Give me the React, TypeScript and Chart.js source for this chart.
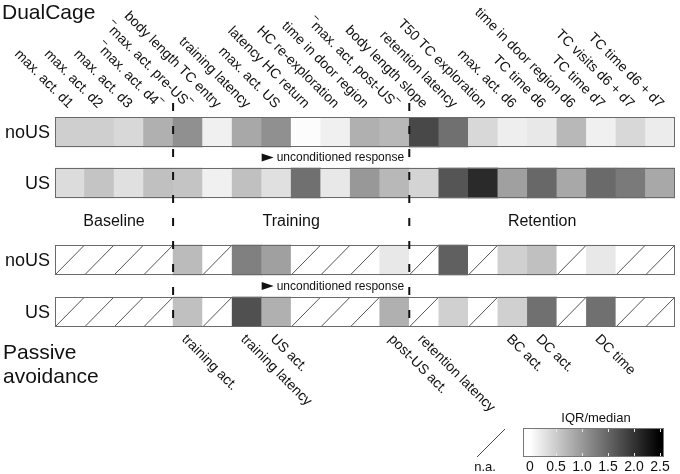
import React, { useEffect, useRef } from "react";
import { Chart, registerables } from "chart.js";

Chart.register(...registerables);

// ---------- data ----------
const topLabels = [
  "max. act. d1",
  "max. act. d2",
  "max. act. d3",
  "‾max. act. d4‾",
  "‾max. act. pre-US‾",
  "body length TC entry",
  "training latency",
  "max. act. US",
  "latency HC return",
  "HC re-exploration",
  "time in door region",
  "‾max. act. post-US‾",
  "body length slope",
  "retention latency",
  "T50 TC exploration",
  "max. act. d6",
  "TC time d6",
  "time in door region d6",
  "TC time d7",
  "TC visits d6 + d7",
  "TC time d6 + d7",
];

const bottomLabels = [
  "", "", "", "",
  "training act.", "", "training latency", "US act.",
  "", "", "", "post-US act.",
  "retention latency", "", "", "BC act.", "DC act.", "", "DC time", "", "",
];

// IQR/median values (null = n.a.)
const dualCageNoUS = [0.47, 0.47, 0.38, 0.77, 1.09, 0.15, 0.85, 1.09, 0.03, 0.15, 0.77, 0.7, 1.79, 1.4, 0.38, 0.17, 0.23, 0.7, 0.15, 0.38, 0.19];
const dualCageUS = [0.34, 0.58, 0.3, 0.62, 0.58, 0.15, 0.62, 0.3, 1.4, 0.23, 1.01, 0.7, 0.42, 1.67, 2.09, 0.93, 1.48, 0.85, 1.46, 1.3, 0.85];
const passiveNoUS = [null, null, null, null, 0.67, null, 1.25, 0.93, null, null, null, 0.23, null, 1.56, null, 0.46, 0.62, null, 0.23, null, null];
const passiveUS = [null, null, null, null, 0.62, null, 1.72, 0.77, null, null, null, 0.77, null, 0.46, null, 0.46, 1.4, null, 1.4, null, null];

const rowNames = ["noUS", "US", "noUS", "US"];
const phaseNames = ["Baseline", "Training", "Retention"];
const phaseBounds = [0, 4, 12, 21];
const colorbarTicks = [0, 0.5, 1.0, 1.5, 2.0, 2.5];
const VMAX = 2.5;

// ---------- layout ----------
const rows = [
  { values: dualCageNoUS, y0: 0, y1: 30 },
  { values: dualCageUS, y0: 51, y1: 81 },
  { values: passiveNoUS, y0: 128, y1: 158 },
  { values: passiveUS, y0: 180, y1: 210 },
];
const FONT = '"Liberation Sans", Arial, sans-serif';

function grayFor(v: number | null): string {
  if (v == null) return "#ffffff";
  const t = Math.max(0, Math.min(1, v / VMAX));
  const g = Math.round(255 * (1 - t));
  return `rgb(${g},${g},${g})`;
}

const overlay = {
  id: "overlay",
  afterDatasetsDraw(chart: any) {
    const ctx = chart.ctx as CanvasRenderingContext2D;
    const xs = chart.scales.x;
    const ys = chart.scales.y;
    const area = chart.chartArea;
    ctx.save();
    // hatches for n.a. cells
    ctx.strokeStyle = "#555";
    ctx.lineWidth = 1;
    rows.forEach((r, di) => {
      const meta = chart.getDatasetMeta(di);
      meta.data.forEach((bar: any, i: number) => {
        if (r.values[i] == null) {
          const p = bar.getProps(["x", "y", "base", "width"], true);
          const left = p.x - p.width / 2;
          const right = p.x + p.width / 2;
          const top = Math.min(p.y, p.base);
          const bottom = Math.max(p.y, p.base);
          ctx.beginPath();
          ctx.moveTo(left, bottom);
          ctx.lineTo(right, top);
          ctx.stroke();
        }
      });
      // frame
      const t = ys.getPixelForValue(r.y0);
      const b = ys.getPixelForValue(r.y1);
      ctx.strokeStyle = "#6a6a6a";
      ctx.strokeRect(Math.round(area.left) + 0.5, Math.round(t) + 0.5, Math.round(area.right - area.left) - 1, Math.round(b - t) - 1);
      ctx.strokeStyle = "#555";
    });

    // dashed phase separators
    ctx.strokeStyle = "#111";
    ctx.lineWidth = 2;
    ctx.setLineDash([8, 15]);
    [4, 12].forEach((k) => {
      const px = (xs.getPixelForValue(k - 1) + xs.getPixelForValue(k)) / 2;
      ctx.beginPath();
      ctx.moveTo(px, area.top - 14);
      ctx.lineTo(px, area.bottom);
      ctx.stroke();
    });
    ctx.setLineDash([]);

    ctx.fillStyle = "#111";
    ctx.textBaseline = "alphabetic";
    // titles
    ctx.font = `21px ${FONT}`;
    ctx.textAlign = "left";
    ctx.fillText("DualCage", 2, 19);
    ctx.fillText("Passive", 3, 359);
    ctx.fillText("avoidance", 3, 383);

    // row labels
    ctx.font = `18px ${FONT}`;
    ctx.textAlign = "right";
    ctx.textBaseline = "middle";
    rows.forEach((r, i) => {
      const cy = ys.getPixelForValue((r.y0 + r.y1) / 2);
      ctx.fillText(rowNames[i], area.left - 5, cy + 1);
    });

    // phase labels
    ctx.font = `16px ${FONT}`;
    ctx.textAlign = "center";
    const cw = xs.getPixelForValue(1) - xs.getPixelForValue(0);
    const phaseY = ys.getPixelForValue((rows[1].y1 + rows[2].y0) / 2);
    phaseNames.forEach((n, i) => {
      const a = xs.getPixelForValue(phaseBounds[i]) - cw / 2;
      const b = xs.getPixelForValue(phaseBounds[i + 1] - 1) + cw / 2;
      ctx.fillText(n, (a + b) / 2, phaseY);
    });

    // unconditioned response
    const ucX = xs.getPixelForValue(7) - cw / 2;
    [[rows[0].y1, rows[1].y0], [rows[2].y1, rows[3].y0]].forEach(([a, b]) => {
      const cy = ys.getPixelForValue((a + b) / 2);
      ctx.beginPath();
      ctx.moveTo(ucX, cy - 4);
      ctx.lineTo(ucX + 12, cy);
      ctx.lineTo(ucX, cy + 4);
      ctx.closePath();
      ctx.fill();
      ctx.font = `12px ${FONT}`;
      ctx.textAlign = "left";
      ctx.fillText("unconditioned response", ucX + 15, cy + 0.5);
    });

    // rotated top labels
    ctx.font = `14px ${FONT}`;
    topLabels.forEach((lab, i) => {
      const cx = xs.getPixelForValue(i);
      ctx.save();
      ctx.translate(cx + 1, area.top - 11);
      ctx.rotate(Math.PI / 4);
      ctx.textAlign = "right";
      ctx.textBaseline = "middle";
      ctx.fillText(lab, 0, 0);
      ctx.restore();
    });
    // rotated bottom labels
    bottomLabels.forEach((lab, i) => {
      if (!lab) return;
      const cx = xs.getPixelForValue(i);
      ctx.save();
      ctx.translate(cx - 4, area.bottom + 10);
      ctx.rotate(Math.PI / 4);
      ctx.textAlign = "left";
      ctx.textBaseline = "middle";
      ctx.fillText(lab, 0, 0);
      ctx.restore();
    });

    // colour bar
    const cbL = 523, cbR = 664, cbT = 428, cbB = 457;
    const v2x = (v: number) => 530 + (v / VMAX) * 130;
    const grad = ctx.createLinearGradient(v2x(0), 0, v2x(VMAX), 0);
    grad.addColorStop(0, "#ffffff");
    grad.addColorStop(1, "#000000");
    ctx.fillStyle = grad;
    ctx.fillRect(cbL, cbT, cbR - cbL, cbB - cbT);
    ctx.strokeStyle = "#777";
    ctx.lineWidth = 1;
    ctx.strokeRect(cbL + 0.5, cbT + 0.5, cbR - cbL - 1, cbB - cbT - 1);
    ctx.strokeStyle = "#e8e8e8";
    colorbarTicks.forEach((t) => {
      if (t === 0) return;
      const px = Math.round(v2x(t)) + 0.5;
      ctx.beginPath();
      ctx.moveTo(px, cbT + 1);
      ctx.lineTo(px, cbT + 4);
      ctx.moveTo(px, cbB - 1);
      ctx.lineTo(px, cbB - 4);
      ctx.stroke();
    });
    ctx.fillStyle = "#111";
    ctx.font = `13px ${FONT}`;
    ctx.textAlign = "center";
    ctx.textBaseline = "middle";
    ctx.fillText("IQR/median", 596, 418);
    ctx.font = `14px ${FONT}`;
    colorbarTicks.forEach((t) => {
      ctx.fillText(t === 0 ? "0" : t.toFixed(1), v2x(t), 467);
    });
    // n.a. legend
    ctx.strokeStyle = "#444";
    ctx.beginPath();
    ctx.moveTo(477, 457);
    ctx.lineTo(505, 429);
    ctx.stroke();
    ctx.font = `13px ${FONT}`;
    ctx.fillText("n.a.", 485, 467);

    ctx.restore();
  },
};

export default function App() {
  const ref = useRef<HTMLCanvasElement | null>(null);
  useEffect(() => {
    if (!ref.current) return;
    const chart = new Chart(ref.current, {
      type: "bar",
      data: {
        labels: topLabels,
        datasets: rows.map((r, i) => ({
          label: rowNames[i],
          data: r.values.map(() => [r.y0, r.y1]) as any,
          backgroundColor: r.values.map((v) => grayFor(v)),
          borderWidth: 0,
          borderSkipped: false,
          barPercentage: 1,
          categoryPercentage: 1,
          grouped: false,
        })),
      },
      options: {
        responsive: false,
        animation: false,
        devicePixelRatio: 1,
        layout: { padding: { left: 55, right: 5, top: 117, bottom: 147 } },
        plugins: { legend: { display: false }, tooltip: { enabled: false } },
        scales: {
          x: { type: "category", display: false, grid: { display: false }, offset: true },
          y: { type: "linear", display: false, min: 0, max: 210, reverse: true },
        },
      },
      plugins: [overlay],
    });
    return () => chart.destroy();
  }, []);
  return (
    <div style={{ position: "absolute", left: 0, top: 0, width: 680, height: 474, background: "#fff" }}>
      <canvas ref={ref} width={680} height={474} style={{ display: "block" }} />
    </div>
  );
}
